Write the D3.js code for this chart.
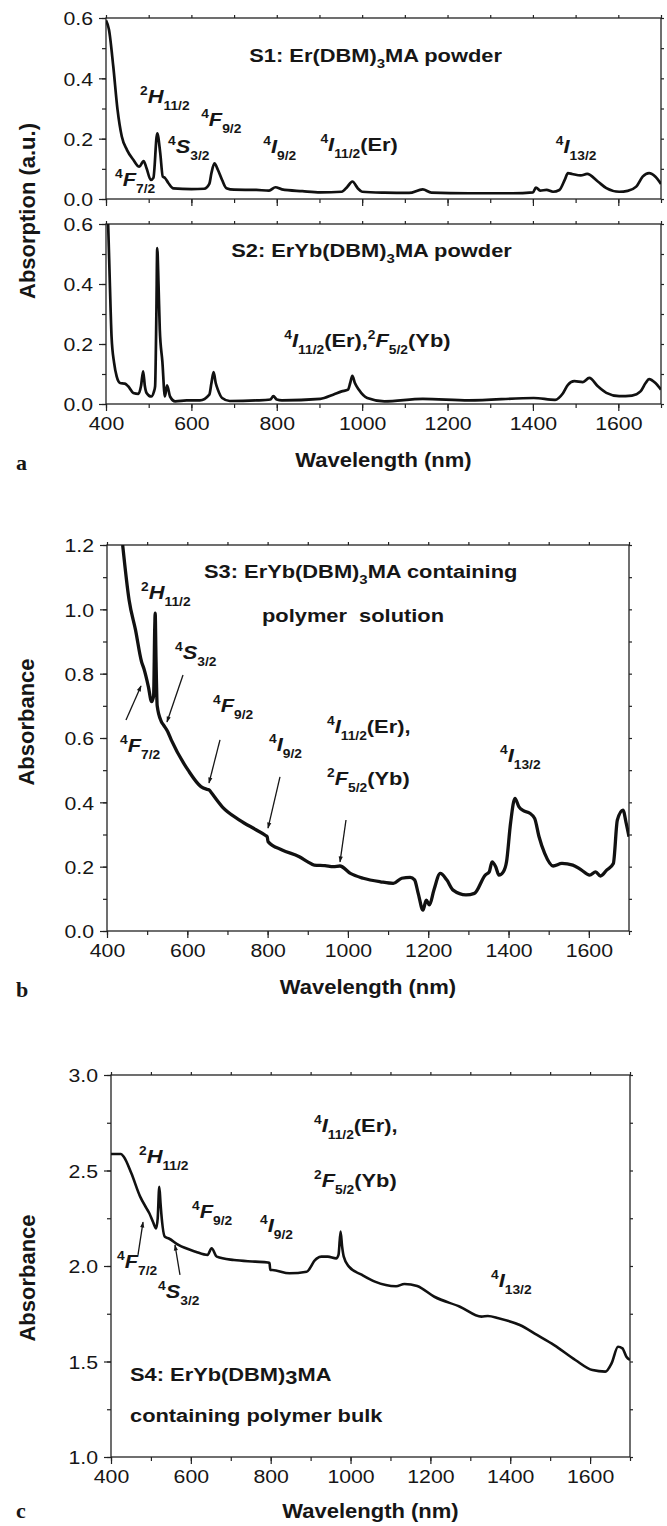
<!DOCTYPE html>
<html>
<head>
<meta charset="utf-8">
<script src="https://cdn.jsdelivr.net/npm/d3@7"></script>
<style>
  body { margin: 0; background: #fff; }
  svg text { font-family: "Liberation Sans", Arial, sans-serif; fill: #161616; }
  .axis path.domain { display: none; }
  .axis line { stroke: #222; stroke-width: 1.2; }
</style>
</head>
<body>
<svg id="chart" width="667" height="1526"></svg>
<script>
// ---- data (wavelength in nm, absorption / absorbance) ----
var s1Nm  = [400,407,417,427,437,449,464,478,488,495,505,511,520,527,533,538,546,558,600,630,642,647,654,662,672,682,700,752,782,797,812,860,902,952,965,977,990,1000,1052,1110,1142,1162,1250,1352,1400,1407,1417,1432,1447,1462,1475,1482,1492,1512,1527,1552,1572,1602,1622,1642,1657,1672,1687,1700];
var s1Abs = [0.592,0.561,0.44,0.296,0.207,0.163,0.13,0.107,0.126,0.102,0.063,0.07,0.218,0.153,0.074,0.07,0.053,0.035,0.033,0.034,0.05,0.086,0.118,0.097,0.063,0.036,0.031,0.03,0.028,0.039,0.032,0.026,0.022,0.024,0.04,0.058,0.035,0.024,0.021,0.02,0.032,0.021,0.019,0.019,0.022,0.038,0.028,0.03,0.024,0.03,0.065,0.086,0.083,0.078,0.083,0.058,0.036,0.024,0.027,0.041,0.074,0.086,0.074,0.05];

var s2Nm  = [400,405,409,413,419,425,433,444,452,464,476,482,487,491,495,506,512,515,518,520,523,526,532,538,543,550,562,589,620,642,647,652,657,662,672,690,752,785,792,800,812,902,932,952,967,972,977,983,992,1012,1052,1142,1250,1402,1452,1470,1482,1497,1517,1532,1552,1572,1602,1632,1652,1664,1672,1687,1700];
var s2Abs = [0.75,0.6,0.403,0.225,0.137,0.092,0.07,0.068,0.059,0.037,0.034,0.06,0.109,0.06,0.037,0.025,0.04,0.059,0.3,0.52,0.4,0.248,0.142,0.025,0.062,0.025,0.009,0.012,0.012,0.031,0.07,0.106,0.07,0.048,0.02,0.01,0.012,0.015,0.026,0.015,0.012,0.017,0.031,0.042,0.048,0.07,0.094,0.07,0.048,0.02,0.009,0.017,0.012,0.02,0.014,0.035,0.064,0.076,0.073,0.087,0.059,0.037,0.026,0.028,0.042,0.07,0.083,0.07,0.048];

var s3Nm  = [439,455,471,486,492,503,511,516,519,520,522,525,535,541,551,560,602,634,650,655,661,687,730,772,796,799,801,836,879,900,916,943,964,980,1006,1038,1081,1113,1134,1155,1166,1175,1187,1195,1203,1214,1230,1246,1262,1294,1315,1342,1352,1359,1368,1376,1387,1395,1405,1416,1426,1437,1453,1465,1476,1490,1511,1533,1560,1581,1602,1617,1629,1645,1661,1671,1685,1693,1700];
var s3Abs = [1.2,1.029,0.936,0.837,0.815,0.76,0.713,0.73,0.95,0.988,0.85,0.7,0.652,0.64,0.62,0.594,0.5,0.449,0.44,0.438,0.428,0.386,0.345,0.314,0.296,0.293,0.278,0.252,0.231,0.215,0.205,0.203,0.2,0.202,0.179,0.164,0.153,0.148,0.164,0.167,0.159,0.117,0.065,0.096,0.081,0.127,0.179,0.159,0.127,0.112,0.117,0.174,0.184,0.215,0.2,0.174,0.184,0.215,0.335,0.412,0.386,0.374,0.366,0.35,0.293,0.241,0.202,0.21,0.205,0.19,0.174,0.184,0.171,0.19,0.21,0.345,0.376,0.335,0.293];

var s4Nm  = [400,425,432,451,473,489,496,505,513,517,521,524,526,535,545,569,612,642,652,665,708,761,793,797,799,804,847,890,911,916,927,943,964,970,975,979,983,996,1029,1061,1114,1135,1167,1210,1274,1328,1344,1371,1424,1467,1510,1563,1606,1638,1654,1670,1681,1691,1700];
var s4Abs = [2.586,2.586,2.572,2.485,2.363,2.302,2.276,2.232,2.197,2.25,2.415,2.33,2.276,2.153,2.144,2.11,2.075,2.058,2.093,2.049,2.031,2.023,2.018,2.016,1.979,1.979,1.962,1.97,2.031,2.04,2.049,2.049,2.04,2.06,2.18,2.1,2.049,1.997,1.953,1.918,1.894,1.906,1.895,1.839,1.787,1.735,1.738,1.726,1.691,1.639,1.586,1.508,1.455,1.447,1.491,1.577,1.569,1.525,1.508];

// ---- ticks ----
var xMajor = [400, 600, 800, 1000, 1200, 1400, 1600];
var xMinor = [400, 500, 600, 700, 800, 900, 1000, 1100, 1200, 1300, 1400, 1500, 1600, 1700];
var yMajorA = [0, 0.2, 0.4, 0.6];
var yMinorA = [0, 0.1, 0.2, 0.3, 0.4, 0.5, 0.6];
var yMajorB = [0, 0.2, 0.4, 0.6, 0.8, 1.0, 1.2];
var yMinorB = [0, 0.1, 0.2, 0.3, 0.4, 0.5, 0.6, 0.7, 0.8, 0.9, 1.0, 1.1, 1.2];
var yMajorC = [1.0, 1.5, 2.0, 2.5, 3.0];
var yMinorC = [1.0, 1.25, 1.5, 1.75, 2.0, 2.25, 2.5, 2.75, 3.0];

// text helpers: superscript / italic letter / subscript (+ trailing text)
function term(sup, letter, sub, tail) {
  var p = [["sup", sup], ["it", letter], ["sub", sub]];
  if (tail) p.push(["n", tail]);
  return p;
}

var panels = [
  { nm: s1Nm, abs: s1Abs, left: 106, right: 661, top: 18, bottom: 199, yDom: [0, 0.6],
    yMajor: yMajorA, yMinor: yMinorA, xLabels: false, lw: 2.7,
    notes: [
      { at: [735.6, 0.454], parts: [["n", "S1: Er(DBM)"], ["tsub", "3"], ["n", "MA powder"]] },
      { at: [479.8, 0.318], parts: term("2", "H", "11/2") },
      { at: [622.9, 0.242], parts: term("4", "F", "9/2") },
      { at: [545.5, 0.152], parts: term("4", "S", "3/2") },
      { at: [421.1, 0.043], parts: term("4", "F", "7/2") },
      { at: [768.4, 0.152], parts: term("4", "I", "9/2") },
      { at: [902.2, 0.159], parts: term("4", "I", "11/2", "(Er)") },
      { at: [1453.6, 0.152], parts: term("4", "I", "13/2") }
    ], arrows: [] },
  { nm: s2Nm, abs: s2Abs, left: 106, right: 661, top: 224, bottom: 404, yDom: [0, 0.6],
    yMajor: yMajorA, yMinor: yMinorA, xLabels: true, lw: 2.7,
    notes: [
      { at: [693.3, 0.49], parts: [["n", "S2: ErYb(DBM)"], ["tsub", "3"], ["n", "MA powder"]] },
      { at: [817.7, 0.19], parts: term("4", "I", "11/2", "(Er),").concat(term("2", "F", "5/2", "(Yb)")) }
    ], arrows: [] },
  { nm: s3Nm, abs: s3Abs, left: 107, right: 629, top: 545, bottom: 931, yDom: [0, 1.2],
    yMajor: yMajorB, yMinor: yMinorB, xLabels: true, lw: 3.3,
    notes: [
      { at: [641.6, 1.097], parts: [["n", "S3: ErYb(DBM)"], ["tsub", "3"], ["n", "MA containing"]] },
      { at: [786.0, 0.961], parts: [["n", "polymer  solution"]] },
      { at: [484.7, 1.032], parts: term("2", "H", "11/2") },
      { at: [569.3, 0.846], parts: term("4", "S", "3/2") },
      { at: [664.0, 0.681], parts: term("4", "F", "9/2") },
      { at: [947.9, 0.616], parts: term("4", "I", "11/2", "(Er),") },
      { at: [432.4, 0.556], parts: term("4", "F", "7/2") },
      { at: [803.4, 0.56], parts: term("4", "I", "9/2") },
      { at: [947.9, 0.454], parts: term("2", "F", "5/2", "(Yb)") },
      { at: [1378.7, 0.525], parts: term("4", "I", "13/2") }
    ],
    arrows: [
      [[447.3, 0.656], [484.7, 0.762]],
      [[589.3, 0.796], [549.4, 0.65]],
      [[681.4, 0.594], [654.0, 0.46]],
      [[830.8, 0.479], [801.0, 0.32]],
      [[995.2, 0.345], [980.3, 0.215]]
    ] },
  { nm: s4Nm, abs: s4Abs, left: 111, right: 630, top: 1075, bottom: 1457, yDom: [1, 3],
    yMajor: yMajorC, yMinor: yMinorC, xLabels: true, lw: 2.6,
    notes: [
      { at: [908.5, 2.702], parts: term("4", "I", "11/2", "(Er),") },
      { at: [908.5, 2.414], parts: term("2", "F", "5/2", "(Yb)") },
      { at: [470.1, 2.539], parts: term("2", "H", "11/2") },
      { at: [602.9, 2.251], parts: term("4", "F", "9/2") },
      { at: [773.2, 2.178], parts: term("4", "I", "9/2") },
      { at: [415.0, 1.99], parts: term("4", "F", "7/2") },
      { at: [517.7, 1.832], parts: term("4", "S", "3/2") },
      { at: [1351.8, 1.89], parts: term("4", "I", "13/2") },
      { at: [447.6, 1.398], parts: [["n", "S4: ErYb(DBM)"], ["low", "3"], ["n", "MA"]] },
      { at: [447.6, 1.183], parts: [["n", "containing polymer bulk"]] }
    ],
    arrows: [
      [[467.6, 2.058], [480.2, 2.23]],
      [[572.8, 1.953], [560.3, 2.11]]
    ] }
];

var svg = d3.select("#chart");

// arrow head
svg.append("defs").append("marker")
  .attr("id", "head")
  .attr("viewBox", "0 0 10 10")
  .attr("refX", 9).attr("refY", 5)
  .attr("markerUnits", "userSpaceOnUse")
  .attr("markerWidth", 10).attr("markerHeight", 6)
  .attr("orient", "auto")
  .append("path").attr("d", "M0,1.5L10,5L0,8.5Z").attr("fill", "#161616");

var SX = 1.15;   // the figure's lettering is a bit wide
var TSX = 1.12;  // same for tick labels

function addLabel(g, px, py, parts) {
  var t = g.append("text")
    .attr("transform", "translate(" + px + "," + py + ") scale(" + SX + ",1)")
    .attr("font-weight", "bold")
    .attr("font-size", 19)
    .style("white-space", "pre");
  var shift = 0;
  parts.forEach(function(p) {
    var kind = p[0], target = 0, fs = 19, style = "normal";
    if (kind === "sup") { target = -8; fs = 12; }
    else if (kind === "sub") { target = 7; fs = 12; }
    else if (kind === "tsub") { target = 6; fs = 13; }
    else if (kind === "low") { target = 3; fs = 19; }
    else if (kind === "it") { style = "italic"; }
    t.append("tspan")
      .attr("dy", target - shift)
      .attr("font-size", fs)
      .attr("font-style", style)
      .text(p[1]);
    shift = target;
  });
}

panels.forEach(function(p, i) {
  var x = d3.scaleLinear().domain([400, 1700]).range([p.left, p.right]);
  var y = d3.scaleLinear().domain(p.yDom).range([p.bottom, p.top]);
  var g = svg.append("g");

  // minor + major ticks, bottom / left outward
  g.append("g").attr("class", "axis").attr("transform", "translate(0," + p.bottom + ")")
    .call(d3.axisBottom(x).tickValues(xMinor).tickSize(4).tickSizeOuter(0).tickFormat(""));
  var xa = g.append("g").attr("class", "axis").attr("transform", "translate(0," + p.bottom + ")")
    .call(d3.axisBottom(x).tickValues(xMajor).tickSize(7).tickSizeOuter(0)
      .tickFormat(p.xLabels ? d3.format("d") : ""));
  xa.selectAll("text")
    .attr("y", 13).attr("dy", "0.71em")
    .attr("font-size", 19).attr("fill", "#161616")
    .attr("transform", "scale(" + TSX + ",1)");

  g.append("g").attr("class", "axis").attr("transform", "translate(" + p.left + ",0)")
    .call(d3.axisLeft(y).tickValues(p.yMinor).tickSize(4).tickSizeOuter(0).tickFormat(""));
  var ya = g.append("g").attr("class", "axis").attr("transform", "translate(" + p.left + ",0)")
    .call(d3.axisLeft(y).tickValues(p.yMajor).tickSize(7).tickSizeOuter(0).tickFormat(d3.format(".1f")));
  ya.selectAll("text")
    .attr("x", -13 / TSX).attr("dy", "0.36em")
    .attr("font-size", 19).attr("fill", "#161616")
    .attr("transform", "scale(" + TSX + ",1)");

  // small ticks on top and right edges
  g.append("g").attr("class", "axis").attr("transform", "translate(0," + p.top + ")")
    .call(d3.axisTop(x).tickValues(xMinor).tickSize(3).tickSizeOuter(0).tickFormat(""));
  g.append("g").attr("class", "axis").attr("transform", "translate(" + p.right + ",0)")
    .call(d3.axisRight(y).tickValues(p.yMinor).tickSize(3).tickSizeOuter(0).tickFormat(""));

  // frame
  g.append("rect")
    .attr("x", p.left).attr("y", p.top)
    .attr("width", p.right - p.left).attr("height", p.bottom - p.top)
    .attr("fill", "none").attr("stroke", "#222").attr("stroke-width", 1.3);

  // curve
  g.append("clipPath").attr("id", "clip" + i)
    .append("rect")
    .attr("x", p.left).attr("y", p.top)
    .attr("width", p.right - p.left).attr("height", p.bottom - p.top);

  var pts = p.nm.map(function(d, k) { return [d, p.abs[k]]; });
  var line = d3.line()
    .x(function(d) { return x(d[0]); })
    .y(function(d) { return y(d[1]); })
    .curve(d3.curveMonotoneX);

  g.append("path")
    .datum(pts)
    .attr("clip-path", "url(#clip" + i + ")")
    .attr("fill", "none")
    .attr("stroke", "#111")
    .attr("stroke-width", p.lw)
    .attr("stroke-linejoin", "round")
    .attr("d", line);

  // annotations
  p.notes.forEach(function(n) {
    addLabel(g, x(n.at[0]), y(n.at[1]), n.parts);
  });
  p.arrows.forEach(function(a) {
    g.append("line")
      .attr("x1", x(a[0][0])).attr("y1", y(a[0][1]))
      .attr("x2", x(a[1][0])).attr("y2", y(a[1][1]))
      .attr("stroke", "#161616").attr("stroke-width", 1.3)
      .attr("marker-end", "url(#head)");
  });
});

// axis titles
function xTitle(cx, by) {
  svg.append("text")
    .attr("transform", "translate(" + cx + "," + by + ") scale(1.1,1)")
    .attr("text-anchor", "middle")
    .attr("font-weight", "bold").attr("font-size", 20)
    .text("Wavelength (nm)");
}
function yTitle(bx, cy, txt) {
  svg.append("text")
    .attr("transform", "translate(" + bx + "," + cy + ") rotate(-90)")
    .attr("text-anchor", "middle")
    .attr("font-weight", "bold").attr("font-size", 22)
    .text(txt);
}
xTitle((106 + 661) / 2, 467);
xTitle((107 + 629) / 2, 994);
xTitle((111 + 630) / 2, 1518);
yTitle(35, 211, "Absorption (a.u.)");
yTitle(34, 722, "Absorbance");
yTitle(35, 1278, "Absorbance");

// panel letters
[["a", 470], ["b", 997], ["c", 1518]].forEach(function(l) {
  svg.append("text")
    .attr("x", 16).attr("y", l[1])
    .style("font-family", "'Liberation Serif', 'Times New Roman', serif")
    .attr("font-weight", "bold").attr("font-size", 22)
    .text(l[0]);
});
</script>
</body>
</html>
